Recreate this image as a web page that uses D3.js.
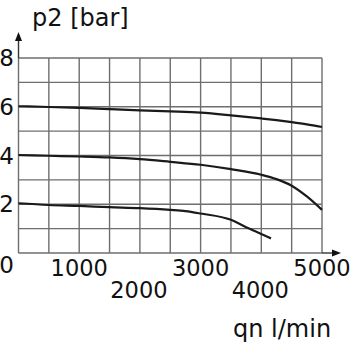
<!DOCTYPE html>
<html>
<head>
<meta charset="utf-8">
<script src="https://cdn.jsdelivr.net/npm/d3@7"></script>
<style>
  body { margin: 0; background: #fff; }
  svg { display: block; }
  text { font-family: "DejaVu Sans", Verdana, sans-serif; fill: #111; }
</style>
</head>
<body>
<svg id="chart" width="350" height="350"></svg>
<script>
// flow in l/min, pressure p2 in bar
const flow = [0, 500, 1000, 1500, 2000, 2500, 3000, 3500, 4000, 4250, 4500, 4750, 5000];
const p6 = [6.02, 5.99, 5.95, 5.9, 5.85, 5.81, 5.76, 5.65, 5.52, 5.45, 5.37, 5.28, 5.17];
const p4 = [4.02, 3.99, 3.96, 3.92, 3.85, 3.74, 3.62, 3.44, 3.21, 3.03, 2.76, 2.32, 1.77];
const flow2 = [0, 500, 1000, 1500, 2000, 2500, 2750, 3000, 3500, 3750, 4000, 4160];
const p2 = [2.04, 1.97, 1.93, 1.88, 1.84, 1.77, 1.72, 1.62, 1.36, 1.06, 0.78, 0.6];
const xTicksTop = [1000, 3000, 5000];
const xTicksLow = [2000, 4000];
const yTicks = [0, 2, 4, 6, 8];

const svg = d3.select("#chart");
const x = d3.scaleLinear().domain([0, 5000]).range([18.5, 322]);
const y = d3.scaleLinear().domain([0, 8]).range([253, 58]);

// grid
const grid = svg.append("g").attr("stroke", "#6e6e6e").attr("stroke-width", 1.4);
grid.selectAll(".vx")
  .data(d3.range(0, 5001, 500))
  .enter().append("line")
  .attr("x1", d => x(d)).attr("x2", d => x(d))
  .attr("y1", y(8)).attr("y2", y(0));
grid.selectAll(".hy")
  .data(d3.range(0, 9, 1))
  .enter().append("line")
  .attr("x1", x(0)).attr("x2", x(5000))
  .attr("y1", d => y(d)).attr("y2", d => y(d));

// axis arrows
svg.append("line").attr("x1", x(0)).attr("x2", x(0))
  .attr("y1", y(8)).attr("y2", 38).attr("stroke", "#333").attr("stroke-width", 1.4);
svg.append("path")
  .attr("d", `M${x(0)},32 L${x(0) - 3.5},41 L${x(0) + 3.5},41 Z`).attr("fill", "#111");
svg.append("line").attr("x1", x(5000)).attr("x2", 335)
  .attr("y1", y(0)).attr("y2", y(0)).attr("stroke", "#333").attr("stroke-width", 1.4);
svg.append("path")
  .attr("d", `M341,${y(0)} L332,${y(0) - 3.5} L332,${y(0) + 3.5} Z`).attr("fill", "#111");

// curves
const line = d3.line().x(d => x(d[0])).y(d => y(d[1])).curve(d3.curveMonotoneX);
[[flow, p6], [flow, p4], [flow2, p2]].forEach(([fx, py]) => {
  svg.append("path")
    .datum(fx.map((f, i) => [f, py[i]]))
    .attr("d", line)
    .attr("fill", "none")
    .attr("stroke", "#1a1a1a")
    .attr("stroke-width", 2.2);
});

// y tick labels
svg.selectAll(".ylab")
  .data(yTicks)
  .enter().append("text")
  .attr("x", 14)
  .attr("y", d => d === 0 ? 273 : y(d) + 8)
  .attr("text-anchor", "end")
  .attr("font-size", 23)
  .text(d => d);

// x tick labels, staggered
svg.selectAll(".xlab1")
  .data(xTicksTop)
  .enter().append("text")
  .attr("x", d => x(d))
  .attr("y", 276)
  .attr("text-anchor", "middle")
  .attr("font-size", 22.5)
  .text(d => d);
svg.selectAll(".xlab2")
  .data(xTicksLow)
  .enter().append("text")
  .attr("x", d => x(d) - 1)
  .attr("y", 298)
  .attr("text-anchor", "middle")
  .attr("font-size", 22.5)
  .text(d => d);

// axis titles
svg.append("text").attr("x", 32).attr("y", 26).attr("font-size", 24).text("p2 [bar]");
svg.append("text").attr("x", 233).attr("y", 337).attr("font-size", 24).text("qn l/min");
</script>
</body>
</html>
